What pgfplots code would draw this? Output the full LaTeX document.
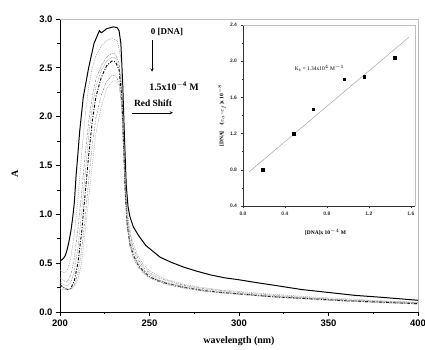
\documentclass[border=0pt]{standalone}
\usepackage{pgfplots}
\pgfplotsset{compat=1.18}
\usepackage{fontspec}
\setmainfont{Liberation Serif}
\setsansfont{Liberation Sans}
\begin{document}
\begin{tikzpicture}
\useasboundingbox (0,0) rectangle (425bp,350bp);
\begin{axis}[
  at={(60bp,38bp)}, anchor=south west,
  scale only axis, width=358bp, height=293bp,
  xmin=200, xmax=400, ymin=0, ymax=3,
  axis x line*=bottom, axis y line*=left,
  axis line style={-, black, line width=0.9pt},
  xtick={200,250,...,400}, ytick={0,0.5,...,3},
  minor tick num=1,
  tick align=outside,
  major tick length=4bp, minor tick length=2.5bp,
  tick style={black, line width=0.7pt},
  /pgf/number format/assume math mode=true,
  ticklabel style={font=\sffamily\bfseries\fontsize{9.5}{10}\selectfont},
  yticklabel style={/pgf/number format/.cd, fixed, fixed zerofill, precision=1},
  xticklabel style={/pgf/number format/.cd, fixed, precision=0},
  xlabel={wavelength (nm)},
  xlabel style={font=\bfseries\fontsize{10}{11}\selectfont, at={(axis description cs:0.5,-0.099)}, anchor=center},
  ylabel={A},
  ylabel style={font=\bfseries\fontsize{10}{11}\selectfont, at={(axis description cs:-0.126,0.47)}, anchor=center},
  clip=false,
]
\draw[gray!50, line width=0.6pt] (rel axis cs:0,1) -- (rel axis cs:1,1) -- (rel axis cs:1,0);
% curve 1 (solid)
\addplot[black, line width=1pt] coordinates {
(200,0.52) (202,0.55) (203,0.58) (204,0.64) (205,0.72) (206,0.82) (207,0.95) (208,1.12) (209,1.4) (210,1.62) (211,1.85) (213,2.2) (216,2.5) (219,2.75) (222,2.88) (223,2.86) (224,2.87) (226,2.9) (230,2.92) (232,2.91) (233,2.88) (234,2.75) (235,2.35) (236,1.8) (237,1.3) (238,1.08) (239,0.98) (241,0.87) (244,0.78) (248,0.68) (252,0.62) (256,0.56) (262,0.51) (269,0.46) (276,0.42) (284,0.38) (292,0.35) (300,0.33) (310,0.30) (321,0.27) (335,0.23) (350,0.20) (365,0.17) (380,0.15) (400,0.12)};
% curve 2
\addplot[gray!80, line width=0.5pt, dash pattern=on 1pt off 1pt] coordinates {
(200,0.43) (202,0.40) (204,0.42) (206,0.55) (208,0.8) (210,1.15) (212,1.6) (214,2.0) (216,2.3) (218,2.5) (220,2.62) (223,2.72) (226,2.78) (229,2.80) (232,2.78) (234,2.6) (235,2.2) (236,1.6) (237,1.15) (238.5,0.9) (240,0.75) (243,0.6) (246,0.5) (250,0.42) (255,0.37) (260,0.33) (270,0.28) (280,0.25) (290,0.225) (300,0.21) (320,0.18) (340,0.155) (360,0.135) (380,0.115) (400,0.10)};
% curve 3
\addplot[gray, line width=0.5pt, dash pattern=on 2pt off 1pt on 0.5pt off 1pt] coordinates {
(200,0.35) (202,0.32) (204,0.31) (206,0.38) (208,0.55) (210,0.85) (212,1.2) (214,1.6) (216,1.95) (218,2.2) (220,2.38) (223,2.52) (226,2.61) (229,2.65) (231,2.64) (233,2.55) (234.5,2.3) (235.5,1.8) (236.5,1.3) (237.5,1.0) (239,0.8) (241,0.65) (244,0.53) (247,0.45) (250,0.4) (255,0.35) (260,0.32) (270,0.27) (280,0.24) (290,0.22) (300,0.2) (320,0.17) (340,0.145) (360,0.125) (380,0.11) (400,0.095)};
% curve 4
\addplot[gray!80, line width=0.5pt, dash pattern=on 0.8pt off 0.8pt] coordinates {
(200,0.30) (202,0.28) (204,0.27) (206,0.30) (208,0.42) (210,0.65) (212,1.0) (214,1.4) (216,1.8) (218,2.1) (220,2.3) (223,2.47) (226,2.57) (229,2.61) (231,2.6) (233,2.52) (234.5,2.25) (235.5,1.75) (236.5,1.25) (237.5,0.95) (239,0.75) (241,0.62) (244,0.5) (247,0.43) (250,0.38) (255,0.33) (260,0.3) (270,0.26) (280,0.23) (290,0.21) (300,0.19) (320,0.16) (340,0.14) (360,0.12) (380,0.105) (400,0.09)};
% curve 5 (thick dash-dot)
\addplot[black, line width=0.9pt, dash pattern=on 3pt off 1.5pt on 1pt off 1.5pt] coordinates {
(200,0.28) (202,0.25) (204,0.23) (206,0.24) (208,0.32) (210,0.5) (212,0.8) (214,1.2) (216,1.6) (218,1.95) (220,2.2) (223,2.4) (226,2.52) (229,2.57) (231,2.56) (233,2.48) (234.5,2.2) (235.5,1.7) (236.5,1.2) (237.5,0.9) (239,0.7) (241,0.58) (244,0.47) (247,0.41) (250,0.36) (255,0.32) (260,0.29) (270,0.25) (280,0.22) (290,0.2) (300,0.185) (320,0.155) (340,0.135) (360,0.115) (380,0.1) (400,0.085)};
% curve 6
\addplot[gray, line width=0.5pt, dash pattern=on 2pt off 1pt on 0.5pt off 1pt on 0.5pt off 1pt] coordinates {
(200,0.27) (202,0.25) (204,0.23) (206,0.23) (208,0.27) (210,0.4) (212,0.62) (214,0.95) (216,1.35) (218,1.7) (220,1.98) (223,2.22) (226,2.36) (229,2.42) (231,2.42) (233,2.35) (234.5,2.1) (235.5,1.65) (236.5,1.2) (237.5,0.9) (239,0.68) (241,0.55) (244,0.45) (247,0.39) (250,0.35) (255,0.31) (260,0.28) (270,0.24) (280,0.215) (290,0.195) (300,0.18) (320,0.15) (340,0.13) (360,0.11) (380,0.095) (400,0.08)};
% curve 7
\addplot[gray!70, line width=0.5pt, dash pattern=on 1pt off 1pt] coordinates {
(200,0.24) (202,0.23) (204,0.23) (206,0.24) (208,0.26) (210,0.33) (212,0.5) (214,0.8) (216,1.15) (218,1.5) (220,1.82) (223,2.1) (226,2.28) (229,2.36) (231,2.37) (233,2.32) (234.5,2.1) (235.5,1.7) (236.5,1.25) (237.5,0.95) (239,0.72) (241,0.58) (244,0.47) (247,0.4) (250,0.36) (255,0.32) (260,0.29) (270,0.25) (280,0.22) (290,0.2) (300,0.185) (320,0.16) (340,0.14) (360,0.12) (380,0.105) (400,0.09)};
% annotations
\node[font=\bfseries\fontsize{9}{10}\selectfont] at (axis cs:259.8,2.87) {0 [DNA]};
\draw[-stealth, black, line width=0.5pt] (axis cs:251.4,2.78) -- (axis cs:251.4,2.46);
\node[font=\bfseries\fontsize{10}{11}\selectfont] at (axis cs:263.7,2.31) {1.5x10$^{\mathbf{-4}}$ M};
\node[font=\bfseries\fontsize{9.5}{10}\selectfont] at (axis cs:252,2.14) {Red Shift};
\draw[-stealth, black, line width=0.5pt] (axis cs:240.2,2.04) -- (axis cs:263.1,2.04);
\end{axis}
\begin{axis}[
  at={(243bp,144bp)}, anchor=south west,
  scale only axis, width=172bp, height=181bp,
  xmin=0, xmax=1.64, ymin=0.4, ymax=2.4,
  axis x line*=bottom, axis y line*=left,
  axis line style={-, black!80, line width=0.6pt},
  xtick={0,0.4,...,1.6}, ytick={0.4,0.8,...,2.4},
  minor tick num=1,
  tick align=outside,
  major tick length=2.5bp, minor tick length=1.5bp,
  tick style={black!80, line width=0.5pt},
  /pgf/number format/assume math mode=true,
  ticklabel style={font=\sffamily\bfseries\fontsize{5}{6}\selectfont, text=black!80},
  yticklabel style={/pgf/number format/.cd, fixed, fixed zerofill, precision=1},
  xticklabel style={/pgf/number format/.cd, fixed, fixed zerofill, precision=1},
  xlabel={[DNA]x 10$^{-4}$ M},
  xlabel style={font=\bfseries\fontsize{5.5}{6}\selectfont, at={(axis description cs:0.48,-0.144)}, anchor=center},
  ylabel={[DNA]\quad/($\varepsilon_a$-$\varepsilon_f$)x 10$^{-8}$},
  ylabel style={font=\bfseries\fontsize{5.5}{6}\selectfont, at={(axis description cs:-0.122,0.5)}, anchor=center},
  clip=false,
]
\draw[gray!50, line width=0.6pt] (rel axis cs:0,1) -- (rel axis cs:1,1) -- (rel axis cs:1,0);
\addplot[gray!70, line width=0.5pt] coordinates {(0.06,0.779) (1.581,2.264)};
\addplot[only marks, mark=square*, mark size=1.4bp, black] coordinates {
(0.19,0.80) (0.48,1.20) (0.67,1.47) (0.965,1.80) (1.155,1.83) (1.45,2.04)};
\node[font=\fontsize{5.5}{6}\selectfont] at (axis cs:0.73,1.925) {K$_{\mathrm{b}}$ = 1.34x10$^4$ M$^{-1}$};
\end{axis}
\end{tikzpicture}
\end{document}
